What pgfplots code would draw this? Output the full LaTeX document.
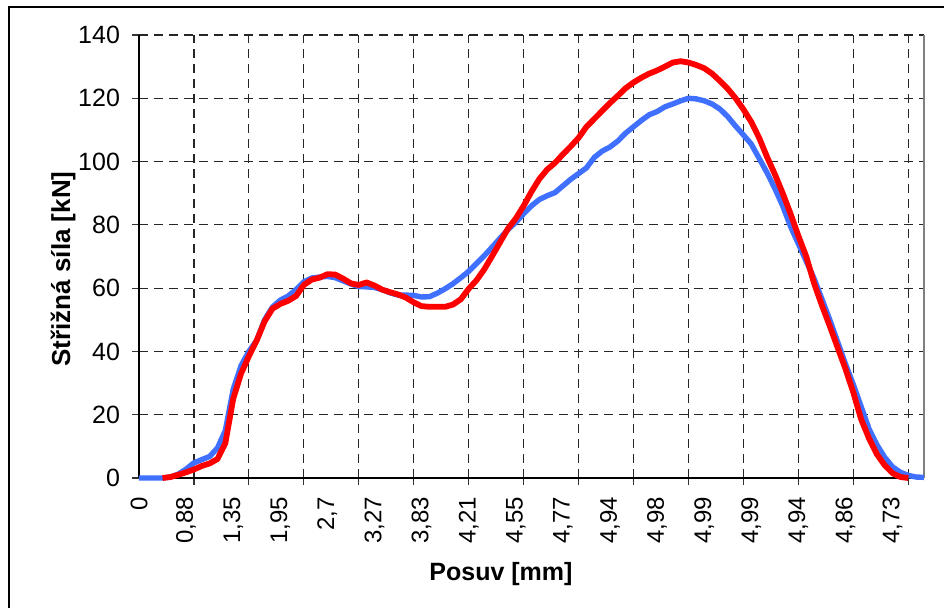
\documentclass[border=0pt]{standalone}
\usepackage{pgfplots}
\usepackage{pgfplotstable}
\pgfplotsset{compat=1.18}
\usepackage{fontspec}
\setmainfont{Liberation Sans}

\definecolor{serieblue}{RGB}{64,112,255}
\definecolor{seriered}{RGB}{255,0,0}

% sample index (0..100) and shear force in kN
\pgfplotstableread{
i v
0 0
1 0
2 0
3 0
4 0.3
5 1.2
6 2.8
7 4.8
8 5.8
9 6.8
10 9.5
11 15
12 28
13 35.5
14 40
15 43.5
16 50
17 54
18 56.2
19 57.5
20 59.5
21 62
22 63.2
23 63.5
24 63.7
25 63.3
26 62.3
27 61.3
28 60.5
29 60.4
30 60.2
31 59.5
32 58.5
33 57.8
34 57.8
35 57.7
36 57.2
37 57.3
38 58.4
39 59.8
40 61.4
41 63.3
42 65.3
43 67.8
44 70.3
45 73
46 75.8
47 78.5
48 80.8
49 83.5
50 86
51 88
52 89.2
53 90.2
54 92.3
55 94.4
56 96.2
57 98
58 101.3
59 103.3
60 104.6
61 106.5
62 109
63 111
64 113
65 114.8
66 115.8
67 117.3
68 118.2
69 119.2
70 120
71 119.8
72 119.2
73 118.2
74 116.6
75 114.2
76 111.2
77 108.4
78 105.5
79 101
80 96.5
81 91.5
82 86
83 79.5
84 74
85 68.5
86 63
87 56.5
88 50
89 43
90 36
91 29.5
92 22.5
93 15.5
94 10.5
95 6.5
96 3.5
97 1.8
98 0.8
99 0.3
100 0.2
}\blueseries

\pgfplotstableread{
i v
3 0
4 0.3
5 1
6 1.8
7 2.7
8 3.8
9 4.6
10 6
11 11
12 25
13 33
14 38.5
15 43.5
16 49.5
17 53.5
18 55
19 56
20 57.5
21 61
22 62.7
23 63.3
24 64.4
25 64.3
26 63
27 61.5
28 61
29 61.8
30 60.8
31 59.5
32 58.7
33 58
34 57
35 55.5
36 54.3
37 54.1
38 54.1
39 54.1
40 54.8
41 56.5
42 59.8
43 62.5
44 66
45 70.2
46 74.5
47 78.8
48 82
49 86
50 90.5
51 94.5
52 97.5
53 99.6
54 102.3
55 104.8
56 107.5
57 111
58 113.5
59 116
60 118.5
61 120.8
62 123.2
63 125
64 126.5
65 127.8
66 128.8
67 130
68 131.3
69 131.7
70 131.3
71 130.5
72 129.5
73 127.8
74 125.5
75 123
76 120
77 116.5
78 112.5
79 107.5
80 101.5
81 96
82 90
83 83.5
84 76.5
85 70
86 61.5
87 54.5
88 48
89 41.2
90 34.5
91 27
92 18.5
93 12.5
94 7.5
95 4
96 1.5
97 0.3
98 0
}\redseries

\begin{document}
\begin{tikzpicture}
\path[use as bounding box] (0,0) rectangle (472pt,304pt);
\draw[line width=0.8pt] (4.5pt,-20pt) -- (4.5pt,300.5pt) -- (500pt,300.5pt);

\begin{axis}[
    at={(69.5pt,65pt)}, anchor=south west,
    scale only axis,
    width=392.5pt, height=221.5pt,
    xmin=0, xmax=100,
    ymin=0, ymax=140,
    axis x line*=bottom,
    axis y line*=left,
    axis line style={-, line width=1pt, black},
    ytick={0,20,...,140},
    xtick={7,14,...,98},
    xticklabels={},
    grid=major,
    major grid style={black!85, line width=0.6pt, dash pattern=on 4.5pt off 3pt},
    tick align=outside,
    major tick length=3.5pt,
    tick style={black!80, line width=0.6pt},
    extra x ticks={0,6,...,96},
    extra x tick labels={0,{0,88},{1,35},{1,95},{2,7},{3,27},{3,83},{4,21},{4,55},{4,77},{4,94},{4,98},{4,99},{4,99},{4,94},{4,86},{4,73}},
    extra x tick style={grid=none, major tick length=0pt},
    /pgf/number format/assume math mode=true,
    xticklabel style={yshift=-6pt, rotate=90, anchor=east, font=\fontsize{12}{13}\selectfont},
    yticklabel style={xshift=-2.5pt, font=\fontsize{12.5}{13}\selectfont},
    clip=false,
]
\draw[black!50, line width=0.6pt] (rel axis cs:1,0) -- (rel axis cs:1,1);
\addplot[serieblue, line width=2.7pt, line join=round] table[x=i, y=v] {\blueseries};
\addplot[seriered, line width=2.9pt, line join=round] table[x=i, y=v] {\redseries};
\end{axis}

\node[rotate=90, font=\bfseries\fontsize{13}{14}\selectfont] at (31.5pt,169.5pt) {Střižná síla [kN]};
\node[font=\bfseries\fontsize{12.5}{14}\selectfont] at (250.5pt,17pt) {Posuv [mm]};
\end{tikzpicture}
\end{document}
